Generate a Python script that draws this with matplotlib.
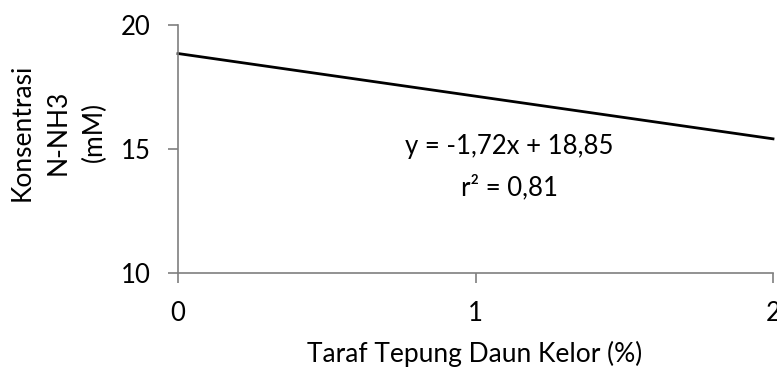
import matplotlib
matplotlib.use('Agg')
import matplotlib.pyplot as plt

# data
taraf = [0, 2]
nh3 = [18.85, 18.85 - 1.72 * 2]
x_ticks = [0, 1, 2]
y_ticks = [10, 15, 20]
persamaan = 'y = -1,72x + 18,85'
r2 = 'r² = 0,81'

plt.rcParams['font.family'] = ['Lato', 'DejaVu Sans']

fig = plt.figure(figsize=(7.77, 3.69), dpi=100)
ax = fig.add_axes([178 / 777, 1 - 273 / 369, (773 - 178) / 777, (273 - 25) / 369])

ax.plot(taraf, nh3, color='black', linewidth=2, clip_on=False)
ax.set_xlim(0, 2)
ax.set_ylim(10, 20)
ax.set_xticks(x_ticks)
ax.set_yticks(y_ticks)
ax.tick_params(axis='both', labelsize=18.5, labelcolor='black', color='#7f7f7f',
               length=7.5, width=1.2, direction='out')
ax.tick_params(axis='y', pad=12)
ax.tick_params(axis='x', pad=13)

for s in ['top', 'right']:
    ax.spines[s].set_visible(False)
for s in ['left', 'bottom']:
    ax.spines[s].set_color('#7f7f7f')
    ax.spines[s].set_linewidth(1.2)

ax.text(1.113, 15.1, persamaan, ha='center', va='center', fontsize=18.5)
ax.text(1.113, 13.45, r2, ha='center', va='center', fontsize=18.5)

# x label placed by baseline so descenders stay inside the figure
fig.text(475 / 777, 1 - 362 / 369, 'Taraf Tepung Daun Kelor (%)', ha='center', va='baseline', fontsize=19)
fig.text(58 / 777, 1 - 132 / 369, 'Konsentrasi\nN-NH3\n(mM)', rotation=90, ha='center', va='center',
         fontsize=19, linespacing=1.55, multialignment='center')

fig.savefig('out.png', dpi=100)
